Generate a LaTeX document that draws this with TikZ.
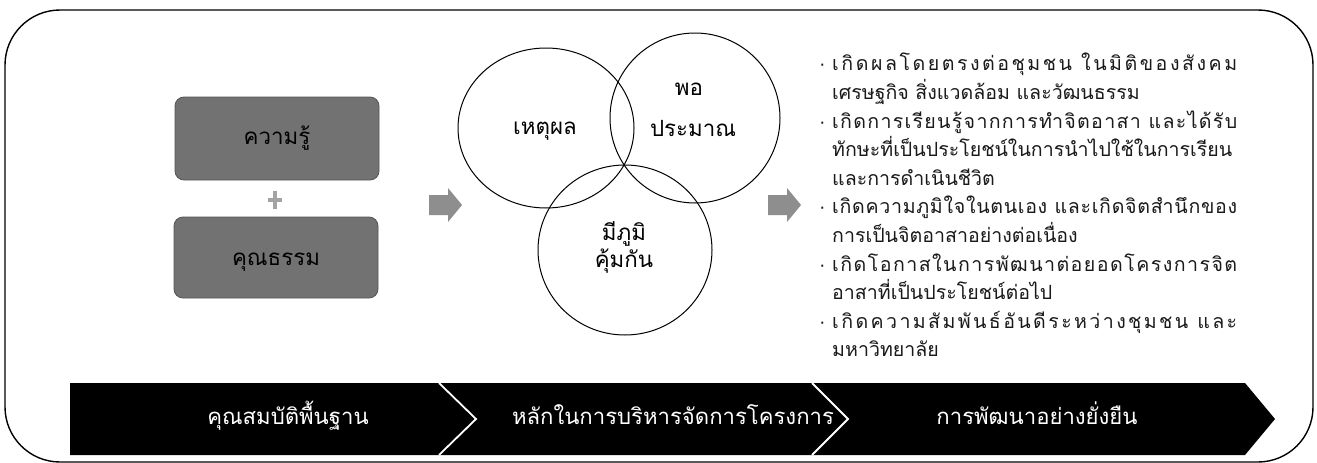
\documentclass[tikz,border=0pt]{standalone}
\usepackage{fontspec}
\newfontfamily\thaifont[Script=Thai]{Loma}
\newfontfamily\dotfont{Liberation Sans}
\newlength\fitw
\newcommand\fitsize[3]{\settowidth\fitw{#3}\pgfmathsetmacro#1{10*#2/max(\fitw,1pt)}}
\AtBeginDocument{%
\fitsize\rsz{400}{\thaifont\fontsize{10}{12}\selectfont ทักษะที่เป็นประโยชน์ในการนำไปใช้ในการเรียน}%
\fitsize\bsz{322}{\thaifont\fontsize{10}{12}\selectfont หลักในการบริหารจัดการโครงการ}%
\fitsize\csz{86}{\thaifont\fontsize{10}{12}\selectfont ประมาณ}%
\fitsize\ksz{88}{\thaifont\fontsize{10}{12}\selectfont คุณธรรม}%
}
\newcommand\bul{\llap{{\dotfont ·}\hspace{6.5pt}}}
\newcommand\lsg{\hspace{0pt plus 1fil}}
\definecolor{boxgray}{HTML}{727272}
\definecolor{boxedge}{HTML}{555555}
\definecolor{arrgray}{HTML}{8E8E8E}
\definecolor{plusgray}{HTML}{A3A3A3}
\definecolor{txt}{HTML}{1A1A1A}
\tikzset{
  thai/.style={inner sep=0pt, text height={0.75*#1 pt}, text depth={0.25*#1 pt},
    font=\thaifont\fontsize{#1}{#1}\selectfont},
  kbox/.style={draw=boxedge, line width=0.8pt, fill=boxgray, rounded corners=9pt},
  circ/.style={draw=black, line width=1pt},
  rline/.style={anchor=west, text=txt},
  blabel/.style={text=white},
  blockarrow/.style={fill=arrgray},
}
\begin{document}
\begin{tikzpicture}[x=1pt,y=-1pt]
\useasboundingbox (0,0) rectangle (1317,463);
\fill[white] (0,0) rectangle (1317,463);
% outer frame
\draw[line width=1.4pt, rounded corners=55pt] (5,10) rectangle (1313,462);
% left boxes
\path[kbox] (175,97) rectangle (379,180);
\path[kbox] (174,217) rectangle (378,298);
\node[thai=\ksz] (k1) at (277,138.5) {ความรู้};
\node[thai=\ksz] (k2) at (276,260) {คุณธรรม};
\draw[plusgray, line width=4pt] (268,200) -- (282,200) (275,191) -- (275,209);
% block arrows
\fill[blockarrow] (429,195) -- (448,195) -- (448,188) -- (462,205) -- (448,222) -- (448,215) -- (429,215) -- cycle;
\fill[blockarrow] (768,195) -- (787,195) -- (787,188) -- (801,205) -- (787,222) -- (787,215) -- (768,215) -- cycle;
% circles
\draw[circ] (546,128) ellipse [x radius=88pt, y radius=80pt];
\draw[circ] (695,118) ellipse [x radius=85pt, y radius=85pt];
\draw[circ] (625,250) ellipse [x radius=87pt, y radius=85pt];
\node[thai=\csz] (t1) at (545,129) {เหตุผล};
\node[thai=\csz] (t2a) at (689,90) {พอ};
\node[thai=\csz] (t2b) at (693,131) {ประมาณ};
\node[thai=\csz] (t3a) at (624,235) {มีภูมิ};
\node[thai=\csz] (t3b) at (624,262) {คุ้มกัน};
% right column
\node[thai=\rsz, rline] (l1) at (832,66) {\makebox[405pt][s]{\bul เ\lsg กิ\lsg ด\lsg ผ\lsg ล\lsg โ\lsg ด\lsg ย\lsg ต\lsg ร\lsg ง\lsg ต่\lsg อ\lsg ชุ\lsg ม\lsg ช\lsg น\ \lsg ใ\lsg น\lsg มิ\lsg ติ\lsg ข\lsg อ\lsg ง\lsg สั\lsg ง\lsg ค\lsg ม}};
\node[thai=\rsz, rline] (l2) at (832,94.6) {เศรษฐกิจ สิ่งแวดล้อม และวัฒนธรรม};
\node[thai=\rsz, rline] (l3) at (832,123.2) {\makebox[405pt][s]{\bul เ\lsg กิ\lsg ด\lsg ก\lsg า\lsg ร\lsg เ\lsg รี\lsg ย\lsg น\lsg รู้\lsg จ\lsg า\lsg ก\lsg ก\lsg า\lsg ร\lsg ทำ\lsg จิ\lsg ต\lsg อ\lsg า\lsg ส\lsg า\ \lsg แ\lsg ล\lsg ะ\lsg ไ\lsg ด้\lsg รั\lsg บ}};
\node[thai=\rsz, rline] (l4) at (832,151.8) {ทักษะที่เป็นประโยชน์ในการนำไปใช้ในการเรียน};
\node[thai=\rsz, rline] (l5) at (832,180.4) {และการดำเนินชีวิต};
\node[thai=\rsz, rline] (l6) at (832,209) {\makebox[405pt][s]{\bul เ\lsg กิ\lsg ด\lsg ค\lsg ว\lsg า\lsg ม\lsg ภู\lsg มิ\lsg ใ\lsg จ\lsg ใ\lsg น\lsg ต\lsg น\lsg เ\lsg อ\lsg ง\ \lsg แ\lsg ล\lsg ะ\lsg เ\lsg กิ\lsg ด\lsg จิ\lsg ต\lsg สำ\lsg นึ\lsg ก\lsg ข\lsg อ\lsg ง}};
\node[thai=\rsz, rline] (l7) at (832,237.6) {การเป็นจิตอาสาอย่างต่อเนื่อง};
\node[thai=\rsz, rline] (l8) at (832,266.2) {\makebox[405pt][s]{\bul เ\lsg กิ\lsg ด\lsg โ\lsg อ\lsg ก\lsg า\lsg ส\lsg ใ\lsg น\lsg ก\lsg า\lsg ร\lsg พั\lsg ฒ\lsg น\lsg า\lsg ต่\lsg อ\lsg ย\lsg อ\lsg ด\lsg โ\lsg ค\lsg ร\lsg ง\lsg ก\lsg า\lsg ร\lsg จิ\lsg ต}};
\node[thai=\rsz, rline] (l9) at (832,294.8) {อาสาที่เป็นประโยชน์ต่อไป};
\node[thai=\rsz, rline] (l10) at (832,323.4) {\makebox[405pt][s]{\bul เ\lsg กิ\lsg ด\lsg ค\lsg ว\lsg า\lsg ม\lsg สั\lsg ม\lsg พั\lsg น\lsg ธ์\lsg อั\lsg น\lsg ดี\lsg ร\lsg ะ\lsg ห\lsg ว่\lsg า\lsg ง\lsg ชุ\lsg ม\lsg ช\lsg น\ \lsg แ\lsg ล\lsg ะ}};
\node[thai=\rsz, rline] (l11) at (832,352) {มหาวิทยาลัย};
% bottom bar
\fill[black] (70,383) -- (1245,383) -- (1275,419) -- (1245,455) -- (70,455) -- cycle;
\draw[white, line width=1.8pt] (439,383) -- (476,419) -- (439,455);
\draw[white, line width=1.8pt] (812,383) -- (848,419) -- (812,455);
\node[thai=\bsz, blabel] (b1) at (288,419) {คุณสมบัติพื้นฐาน};
\node[thai=\bsz, blabel] (b2) at (673,419) {หลักในการบริหารจัดการโครงการ};
\node[thai=\bsz, blabel] (b3) at (1037,419) {การพัฒนาอย่างยั่งยืน};
\end{tikzpicture}
\end{document}
